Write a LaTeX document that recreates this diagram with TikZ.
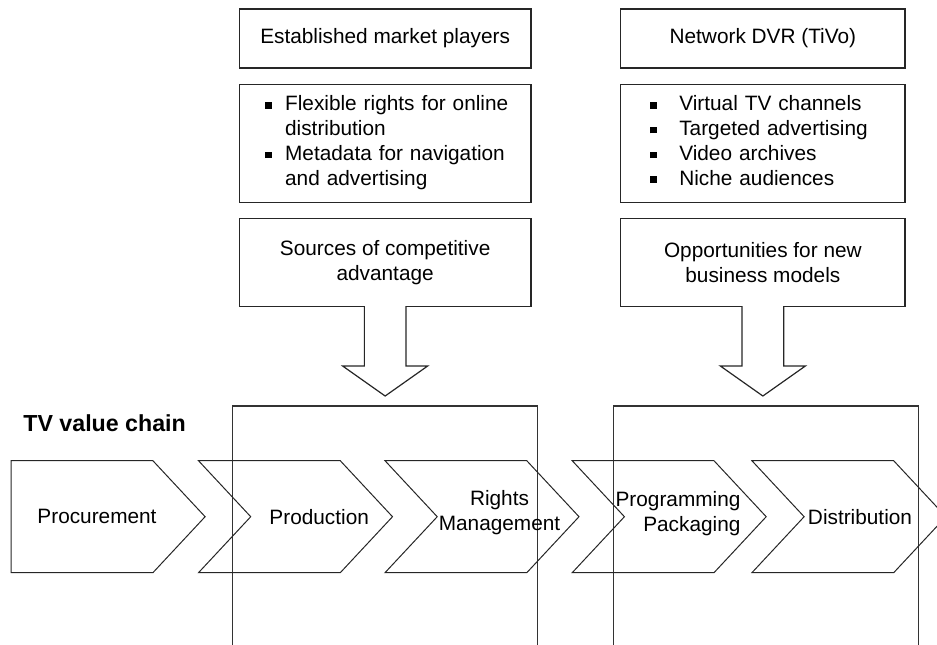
\documentclass[tikz,border=0pt]{standalone}
\usepackage{fontspec}
\setmainfont{Liberation Sans}
\usetikzlibrary{positioning,shapes.symbols}
\newcommand{\sqbul}{\raisebox{1.2pt}{\rule{3.3pt}{3.3pt}}}

\begin{document}
\begin{tikzpicture}[x=0.5pt,y=-0.5pt,
box/.style={draw=black!85,line width=0.6pt,rectangle,inner sep=0pt,align=center,
    font=\fontsize{10.4}{12.4}\selectfont},
stage/.style={draw=black!85,line width=0.5pt,signal,signal to=east,signal from=west,
    signal pointer angle=94,minimum width=97pt,minimum height=56pt,inner sep=0pt},
first/.style={stage,signal from=nowhere},
lbl/.style={align=center,inner sep=0pt,font=\fontsize{10.4}{12.4}\selectfont},
blockarrow/.style={draw=black!85,line width=0.6pt,fill=white},
frame/.style={draw=black!80,line width=0.6pt}]

\path[use as bounding box,clip] (0,0) rectangle (937,644);

% left column
\node (estab) [box,minimum width=145.85pt,minimum height=29.5pt] at (385.15,38.5)
    {Established market players};
\node (rights) [box,minimum width=145.85pt,minimum height=59pt,text width=120pt,align=left,
    below=7.5pt of estab]
    {\begin{tabular}{@{}l@{\hspace{6.7pt}}l@{}}
     \sqbul & Flexible rights for online\\
            & distribution\\
     \sqbul & Metadata for navigation\\
            & and advertising
     \end{tabular}};
\node (srcs) [box,minimum width=145.85pt,minimum height=44pt,below=7.5pt of rights]
    {Sources of competitive\\advantage};

% right column
\node (ndvr) [box,minimum width=142.15pt,minimum height=29.5pt] at (762.85,38.5)
    {Network DVR (TiVo)};
\node (uses) [box,minimum width=142.15pt,minimum height=59pt,text width=112.85pt,align=left,
    below=7.5pt of ndvr]
    {\begin{tabular}{@{}l@{\hspace{11.35pt}}l@{}}
     \sqbul & Virtual TV channels\\
     \sqbul & Targeted advertising\\
     \sqbul & Video archives\\
     \sqbul & Niche audiences
     \end{tabular}};
\node (opps) [box,minimum width=142.15pt,minimum height=44pt,below=7.5pt of uses]
    {Opportunities for new\\business models};

% block arrows
\draw[blockarrow] (srcs.south) ++(-20.8,-0.8) -- ++(0,59.8) -- ++(-21.7,0) -- ++(42.5,30)
    -- ++(42.5,-30) -- ++(-21.7,0) -- ++(0,-59.8);
\draw[blockarrow] (opps.south) ++(-20.8,-0.8) -- ++(0,59.8) -- ++(-21.7,0) -- ++(42.5,30)
    -- ++(42.5,-30) -- ++(-21.7,0) -- ++(0,-59.8);

% value chain
\node (chain) [anchor=west,inner sep=0pt,font=\bfseries\fontsize{11.6}{14}\selectfont]
    at (23,423) {TV value chain};
\draw[frame] (232.7,406) rectangle (537.5,660);
\draw[frame] (613.5,406) rectangle (918.7,660);

\node (proc) [first] at (82,516.7) {};
\node (prod) [stage] at (295.5,516.7) {};
\node (rman) [stage] at (482,516.7) {};
\node (prog) [stage] at (669.2,516.7) {};
\node (dist) [stage] at (848.9,516.7) {};

\node [lbl] at ([xshift=7.5pt]proc.center) {Procurement};
\node [lbl] at ([xshift=11.85pt]prod.center) {Production};
\node [lbl] at ([xshift=8.75pt,yshift=1.85pt]rman.center) {Rights\\Management};
\node [lbl,align=right] at ([xshift=4.4pt,yshift=1.35pt]prog.center) {Programming\\Packaging};
\node [lbl] at ([xshift=5.55pt]dist.center) {Distribution};
\end{tikzpicture}
\end{document}
